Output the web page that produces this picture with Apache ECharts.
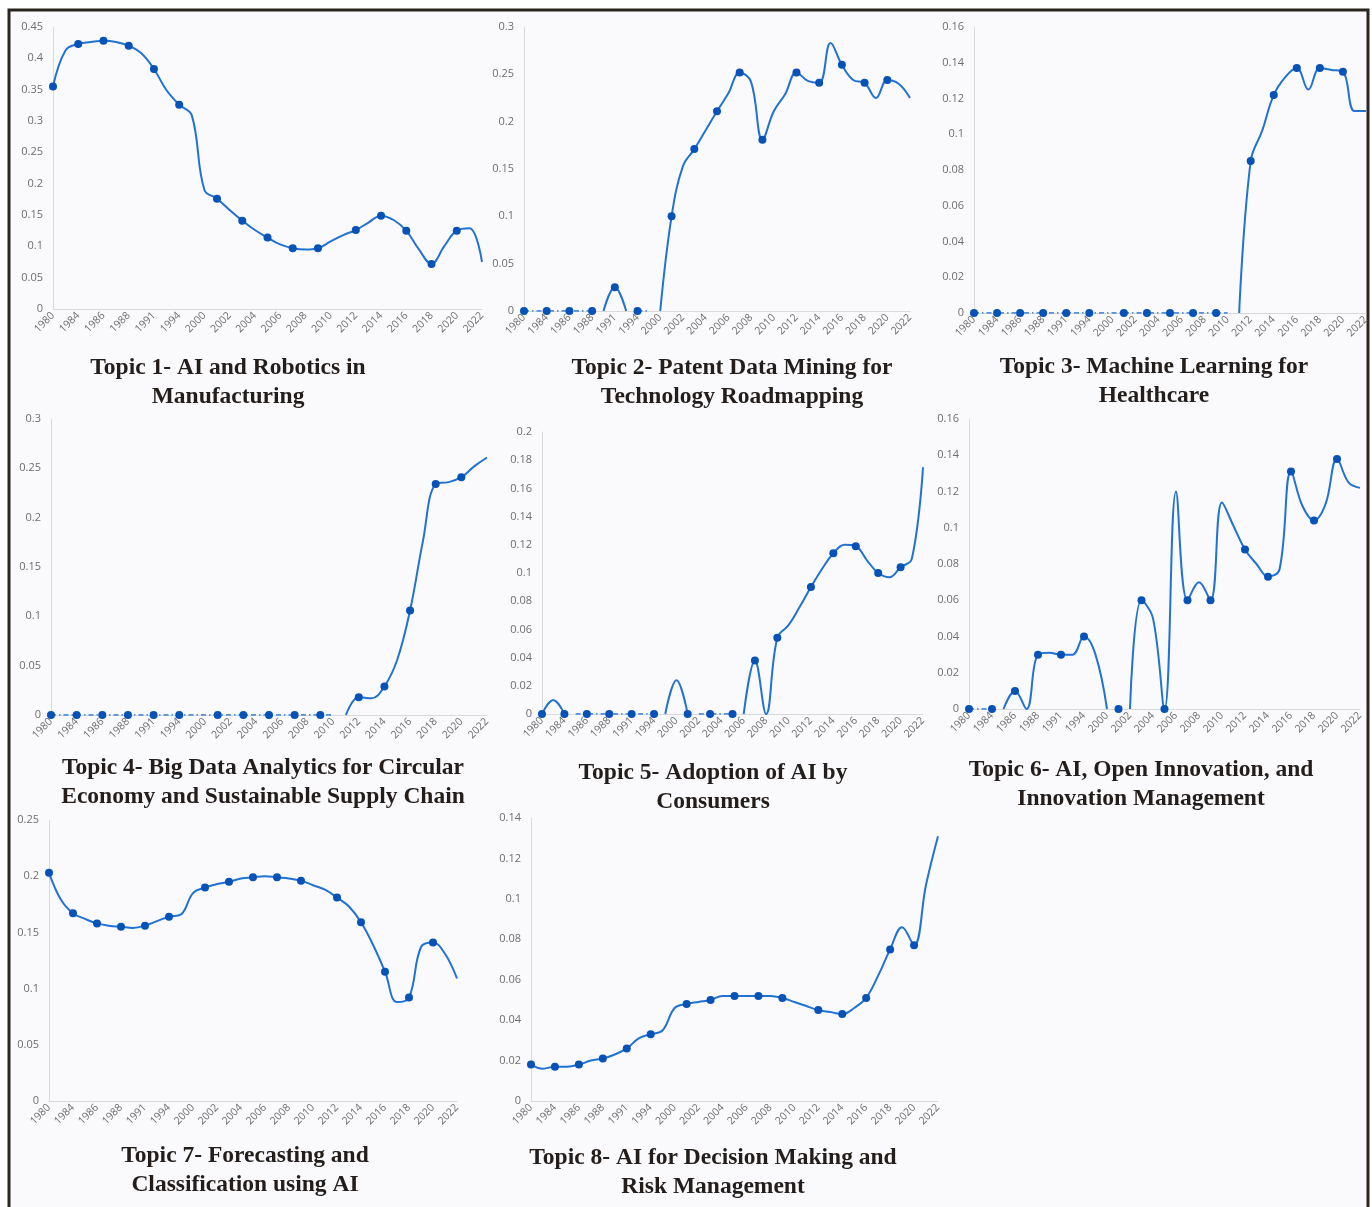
<!DOCTYPE html>
<html>
<head>
<meta charset="utf-8">
<title>AI topics over time</title>
<script src="https://cdn.jsdelivr.net/npm/echarts@6/dist/echarts.min.js"></script>
<style>
  html, body { margin: 0; padding: 0; background: #ffffff; }
  #main { width: 1372px; height: 1207px; }
</style>
</head>
<body>
<div id="main"></div>
<script>
// categories on the x axis (every second one gets a label)
var years = ['1980', '1982', '1984', '1985', '1986', '1987', '1988', '1990', '1991', '1993',
  '1994', '1999', '2000', '2001', '2002', '2003', '2004', '2005', '2006', '2007',
  '2008', '2009', '2010', '2011', '2012', '2013', '2014', '2015', '2016', '2017',
  '2018', '2019', '2020', '2021', '2022'];

// years that carry a marker dot
var markedYears = ['1980', '1984', '1986', '1988', '1991', '1994', '2001', '2003', '2005',
  '2007', '2009', '2012', '2014', '2016', '2018', '2020'];

var topic1 = [0.355, 0.413, 0.423, 0.426, 0.428, 0.426, 0.420, 0.408, 0.383, 0.349,
  0.326, 0.309, 0.190, 0.176, 0.158, 0.141, 0.126, 0.114, 0.103, 0.097,
  0.095, 0.097, 0.108, 0.118, 0.126, 0.138, 0.149, 0.142, 0.125, 0.095,
  0.072, 0.100, 0.125, 0.129, 0.075];

var topic2 = [0, 0, 0, 0, 0, 0, 0, 0, 0.025, 0,
  0, 0, 0, 0.100, 0.153, 0.171, 0.191, 0.211, 0.230, 0.252,
  0.242, 0.181, 0.211, 0.229, 0.252, 0.243, 0.241, 0.283, 0.260, 0.244,
  0.241, 0.225, 0.244, 0.240, 0.225];

var topic3 = [0, 0, 0, 0, 0, 0, 0, 0, 0, 0,
  0, 0, 0, 0, 0, 0, 0, 0, 0, 0,
  0, 0, 0, 0, 0.085, 0.102, 0.122, 0.132, 0.137, 0.125,
  0.137, 0.136, 0.135, 0.113, 0.113];

var topic4 = [0, 0, 0, 0, 0, 0, 0, 0, 0, 0,
  0, 0, 0, 0, 0, 0, 0, 0, 0, 0,
  0, 0, 0, 0, 0.018, 0.017, 0.029, 0.056, 0.106, 0.176,
  0.234, 0.236, 0.241, 0.252, 0.261];

var topic5 = [0, 0.010, 0, 0, 0, 0, 0, 0, 0, 0,
  0, 0, 0.024, 0, 0, 0, 0, 0, 0, 0.038,
  0, 0.054, 0.063, 0.076, 0.090, 0.103, 0.114, 0.120, 0.119, 0.109,
  0.100, 0.097, 0.104, 0.110, 0.175];

var topic6 = [0, 0, 0, 0, 0.010, 0, 0.030, 0.031, 0.030, 0.030,
  0.040, 0.030, 0, 0, 0, 0.060, 0.050, 0, 0.120, 0.060,
  0.070, 0.060, 0.114, 0.101, 0.088, 0.080, 0.073, 0.077, 0.131, 0.112,
  0.104, 0.113, 0.138, 0.125, 0.122];

var topic7 = [0.203, 0.179, 0.167, 0.162, 0.158, 0.156, 0.155, 0.154, 0.156, 0.160,
  0.164, 0.166, 0.185, 0.190, 0.193, 0.195, 0.198, 0.199, 0.200, 0.199,
  0.198, 0.196, 0.192, 0.188, 0.181, 0.173, 0.159, 0.139, 0.115, 0.088,
  0.092, 0.137, 0.141, 0.131, 0.109];

var topic8 = [0.018, 0.016, 0.017, 0.017, 0.018, 0.020, 0.021, 0.023, 0.026, 0.031,
  0.033, 0.035, 0.046, 0.048, 0.049, 0.050, 0.052, 0.052, 0.052, 0.052,
  0.052, 0.051, 0.049, 0.047, 0.045, 0.044, 0.043, 0.046, 0.051, 0.062,
  0.075, 0.086, 0.077, 0.107, 0.131];

var titles = [
  'Topic 1- AI and Robotics in\nManufacturing',
  'Topic 2- Patent Data Mining for\nTechnology Roadmapping',
  'Topic 3- Machine Learning for\nHealthcare',
  'Topic 4- Big Data Analytics for Circular\nEconomy and Sustainable Supply Chain',
  'Topic 5- Adoption of AI by\nConsumers',
  'Topic 6- AI, Open Innovation, and\nInnovation Management',
  'Topic 7- Forecasting and\nClassification using AI',
  'Topic 8- AI for Decision Making and\nRisk Management'
];

// y axis top and step for each panel
var yMax = [0.45, 0.3, 0.16, 0.3, 0.2, 0.16, 0.25, 0.14];
var yStep = [0.05, 0.05, 0.02, 0.05, 0.02, 0.02, 0.05, 0.02];

// layout: [left, top, width, height] of each plot, and title anchor
var boxes = [
  [53, 27, 429, 282], [524, 27, 386, 284], [974, 27, 392, 286],
  [51, 419, 436, 296], [542, 432, 381, 282], [969, 419, 391, 290],
  [49, 820, 408, 281], [531, 818, 407, 283]
];
var titlePos = [
  [228, 353], [732, 353], [1154, 352],
  [263, 753], [713, 758], [1141, 755],
  [245, 1141], [713, 1143]
];

var LINE = '#2272d2';
var DOT = '#0652b6';

var allData = [topic1, topic2, topic3, topic4, topic5, topic6, topic7, topic8];

// a zero that sits inside a run of zeros is drawn as the dash-dot baseline
function flatZero(vals, i) {
  if (vals[i] !== 0) return false;
  var before = i === 0 || vals[i - 1] === 0;
  var after = i === vals.length - 1 || vals[i + 1] === 0;
  return before && after;
}

var chart = echarts.init(document.getElementById('main'), null, {renderer: 'canvas'});

var grid = [], xAxis = [], yAxis = [], series = [];
var graphic = [{
  type: 'rect',
  z: -10,
  shape: {x: 9, y: 10, width: 1359, height: 1220},
  style: {fill: '#fafafc', stroke: '#2b2521', lineWidth: 3}
}];

allData.forEach(function (vals, k) {
  var b = boxes[k];
  grid.push({left: b[0], top: b[1], width: b[2], height: b[3], containLabel: false});
  xAxis.push({
    type: 'category',
    gridIndex: k,
    data: years,
    boundaryGap: false,
    axisLine: {lineStyle: {color: '#d9d9d9', width: 1}},
    axisTick: {show: false},
    axisLabel: {
      interval: 1,
      rotate: 45,
      margin: 5,
      color: '#6e6e6e',
      fontSize: 10.5,
      fontFamily: 'Open Sans'
    },
    splitLine: {show: false}
  });
  yAxis.push({
    type: 'value',
    gridIndex: k,
    min: 0,
    max: yMax[k],
    interval: yStep[k],
    axisLine: {show: true, lineStyle: {color: '#d9d9d9', width: 1}},
    axisTick: {show: false},
    axisLabel: {
      margin: 10,
      color: '#6e6e6e',
      fontSize: 11,
      fontFamily: 'Open Sans'
    },
    splitLine: {show: false}
  });

  var solid = vals.map(function (v, i) { return flatZero(vals, i) ? null : v; });
  var dashed = vals.map(function (v, i) { return flatZero(vals, i) ? 0 : null; });
  var dots = vals.map(function (v, i) { return markedYears.indexOf(years[i]) >= 0 ? v : null; });

  series.push({
    type: 'line', xAxisIndex: k, yAxisIndex: k,
    data: solid, smooth: 0.4, showSymbol: false, connectNulls: false,
    lineStyle: {color: LINE, width: 2}, z: 2
  });
  series.push({
    type: 'line', xAxisIndex: k, yAxisIndex: k,
    data: dashed, showSymbol: false, connectNulls: false,
    lineStyle: {color: LINE, width: 1.5, type: [5, 3, 1.5, 3]}, z: 2
  });
  series.push({
    type: 'line', xAxisIndex: k, yAxisIndex: k,
    data: dots, symbol: 'circle', symbolSize: 8, showAllSymbol: true,
    connectNulls: false,
    lineStyle: {width: 0, opacity: 0},
    itemStyle: {color: DOT}, z: 3
  });

  graphic.push({
    type: 'text',
    x: titlePos[k][0],
    y: titlePos[k][1],
    style: {
      text: titles[k],
      font: 'bold 23.5px "Liberation Serif", "Times New Roman", serif',
      fill: '#231e1b',
      align: 'center',
      verticalAlign: 'top',
      lineHeight: 29
    }
  });
});

chart.setOption({
  animation: false,
  backgroundColor: '#ffffff',
  grid: grid,
  xAxis: xAxis,
  yAxis: yAxis,
  series: series,
  graphic: graphic
});
</script>
</body>
</html>
